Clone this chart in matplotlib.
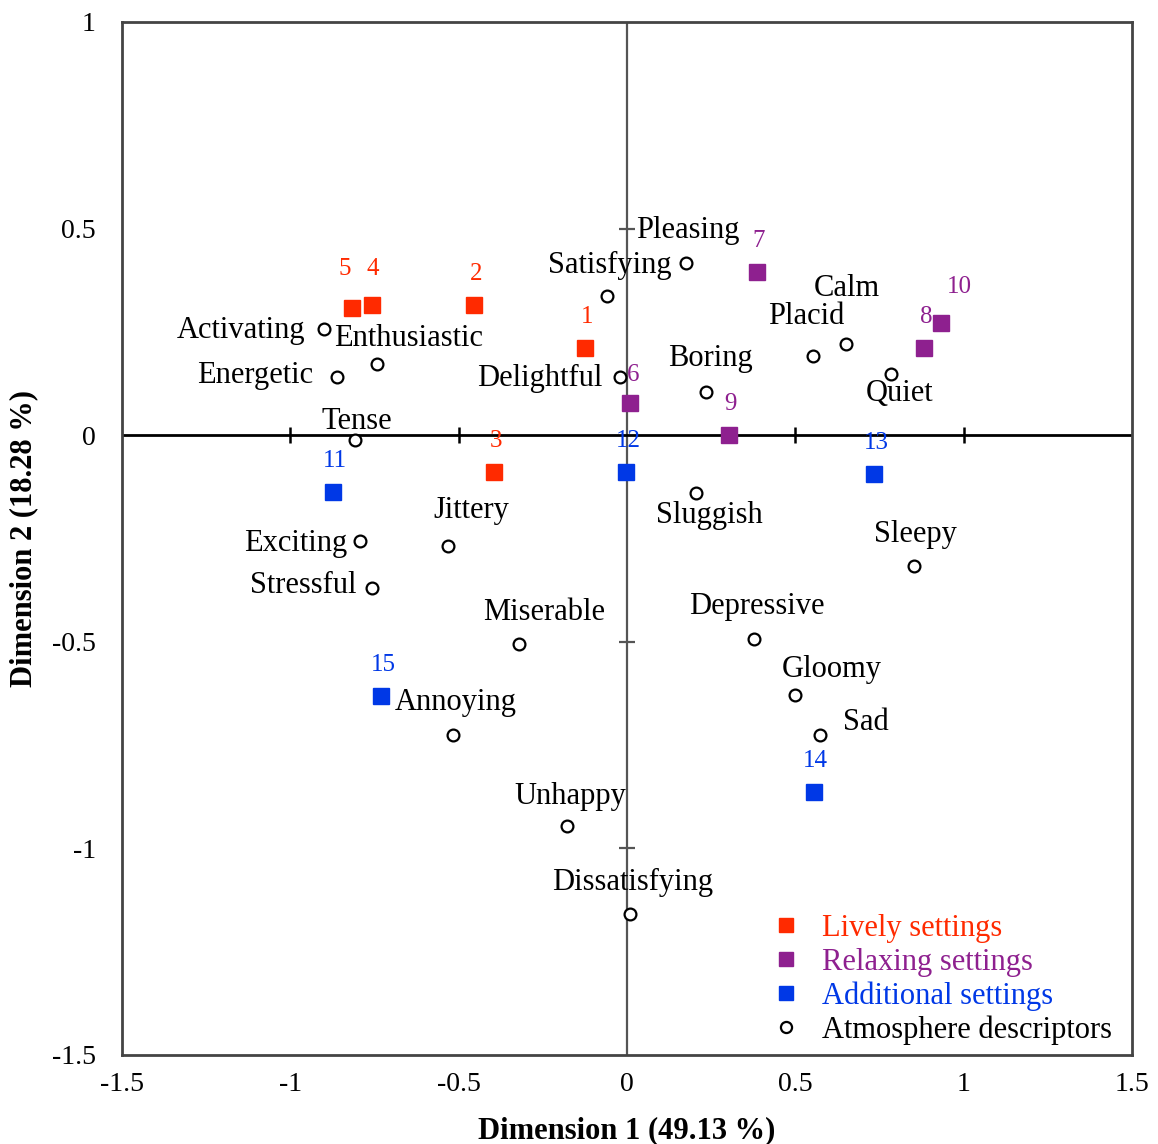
import matplotlib
matplotlib.use('Agg')
import matplotlib.pyplot as plt
from matplotlib.lines import Line2D

plt.rcParams['font.family'] = ['Liberation Serif', 'DejaVu Serif']

# settings (squares), numbered 1..15
setting_ids = ['1', '2', '3', '4', '5', '6', '7', '8', '9', '10', '11', '12', '13', '14', '15']
setting_x = [-0.125, -0.454, -0.395, -0.757, -0.817, 0.009, 0.386, 0.882, 0.303, 0.933,
             -0.873, -0.003, 0.734, 0.555, -0.731]
setting_y = [0.21, 0.315, -0.09, 0.315, 0.307, 0.077, 0.394, 0.21, 0.0, 0.271,
             -0.138, -0.09, -0.094, -0.864, -0.632]
setting_group = ['lively'] * 5 + ['relaxing'] * 5 + ['additional'] * 5

# atmosphere descriptors (open circles)
desc_names = ['Activating', 'Enthusiastic', 'Energetic', 'Tense', 'Delightful', 'Satisfying',
              'Pleasing', 'Boring', 'Placid', 'Calm', 'Quiet', 'Sluggish', 'Sleepy', 'Jittery',
              'Exciting', 'Stressful', 'Miserable', 'Depressive', 'Gloomy', 'Sad', 'Annoying',
              'Unhappy', 'Dissatisfying']
desc_x = [-0.9, -0.742, -0.861, -0.808, -0.021, -0.059, 0.175, 0.235, 0.552, 0.65, 0.784,
          0.205, 0.852, -0.532, -0.793, -0.757, -0.321, 0.377, 0.499, 0.573, -0.517,
          -0.178, 0.009]
desc_y = [0.257, 0.172, 0.14, -0.012, 0.14, 0.336, 0.416, 0.104, 0.191, 0.22, 0.148,
          -0.14, -0.317, -0.269, -0.257, -0.37, -0.506, -0.494, -0.629, -0.726, -0.726,
          -0.946, -1.159]

colors = {'lively': '#ff2a00', 'relaxing': '#8e208f', 'additional': '#0038e6'}
labels = {'lively': 'Lively settings', 'relaxing': 'Relaxing settings',
          'additional': 'Additional settings'}

# label placement in pixels: (dx, dy, ha)
desc_offsets = {
    'Activating': (-19, -2, 'right'), 'Enthusiastic': (31, 26, 'center'),
    'Energetic': (-24, 2, 'right'), 'Tense': (2, 19, 'center'),
    'Delightful': (-17, -1, 'right'), 'Satisfying': (3, 31, 'center'),
    'Pleasing': (2, 33, 'center'), 'Boring': (4, 34, 'center'),
    'Placid': (-6, 40, 'center'), 'Calm': (1, 56, 'center'),
    'Quiet': (9, -19, 'center'), 'Sluggish': (13, -22, 'center'),
    'Sleepy': (2, 32, 'center'), 'Jittery': (23, 36, 'center'),
    'Exciting': (-13, -2, 'right'), 'Stressful': (-16, 3, 'right'),
    'Miserable': (25, 32, 'center'), 'Depressive': (3, 33, 'center'),
    'Gloomy': (37, 26, 'center'), 'Sad': (23, 13, 'left'),
    'Annoying': (3, 33, 'center'), 'Unhappy': (3, 30, 'center'),
    'Dissatisfying': (3, 32, 'center'),
}
num_offsets = {'5': (-7, 39), '4': (1, 36), '10': (18, 36), '6': (3, 28)}

fig = plt.figure(figsize=(11.58, 11.44), dpi=100)
ax = fig.add_axes([0.1054, 0.0778, 0.872, 0.9030])
ax.set_xlim(-1.5, 1.5)
ax.set_ylim(-1.5, 1.0)

for s in ax.spines.values():
    s.set_color('#444444')
    s.set_linewidth(2)

# centre cross with its own ticks
ax.axvline(0, color='#555555', lw=1.6, zorder=1)
ax.axhline(0, color='black', lw=2, zorder=1)
ax.plot([-1, -0.5, 0.5, 1], [0] * 4, ls='none', marker='|', ms=12, mew=1.8,
        color='black', zorder=1)
ax.plot([0] * 3, [0.5, -0.5, -1], ls='none', marker='_', ms=12, mew=1.6,
        color='#555555', zorder=1)

ax.set_xticks([-1.5, -1, -0.5, 0, 0.5, 1, 1.5])
ax.set_xticklabels(['-1.5', '-1', '-0.5', '0', '0.5', '1', '1.5'])
ax.set_yticks([-1.5, -1, -0.5, 0, 0.5, 1])
ax.set_yticklabels(['-1.5', '-1', '-0.5', '0', '0.5', '1'])
ax.tick_params(axis='x', length=0, pad=12, labelsize=20)
ax.tick_params(axis='y', length=0, pad=19, labelsize=20)

ax.set_xlabel('Dimension 1 (49.13 %)', fontsize=22, fontweight='bold', labelpad=14)
ax.set_ylabel('Dimension 2 (18.28 %)', fontsize=22, fontweight='bold', labelpad=10)

pt = 0.72  # pixels -> points at 100 dpi

ax.plot(desc_x, desc_y, ls='none', marker='o', ms=8.5, mfc='white', mec='black',
        mew=1.6, zorder=3)
for name, x, y in zip(desc_names, desc_x, desc_y):
    dx, dy, ha = desc_offsets[name]
    ax.annotate(name, (x, y), xytext=(dx * pt, dy * pt), textcoords='offset points',
                ha=ha, va='center', fontsize=22, zorder=4)

for grp in ['lively', 'relaxing', 'additional']:
    xs = [x for x, g in zip(setting_x, setting_group) if g == grp]
    ys = [y for y, g in zip(setting_y, setting_group) if g == grp]
    ax.plot(xs, ys, ls='none', marker='s', ms=12, color=colors[grp], zorder=5)

for sid, x, y, g in zip(setting_ids, setting_x, setting_y, setting_group):
    dx, dy = num_offsets.get(sid, (2, 31))
    ax.annotate(sid, (x, y), xytext=(dx * pt, dy * pt), textcoords='offset points',
                ha='center', va='center', fontsize=18, color=colors[g], zorder=6)

handles = [Line2D([], [], ls='none', marker='s', ms=10, color=colors[g]) for g in colors]
handles.append(Line2D([], [], ls='none', marker='o', ms=8, mfc='white', mec='black', mew=1.6))
leg_labels = [labels[g] for g in colors] + ['Atmosphere descriptors']
ax.legend(handles, leg_labels, loc='lower right', bbox_to_anchor=(0.992, -0.002),
          frameon=False, fontsize=22,
          labelcolor=[colors[g] for g in colors] + ['black'],
          handletextpad=0.55, labelspacing=0.15, borderaxespad=0, handlelength=1.2)

fig.savefig('out.png', dpi=100)
